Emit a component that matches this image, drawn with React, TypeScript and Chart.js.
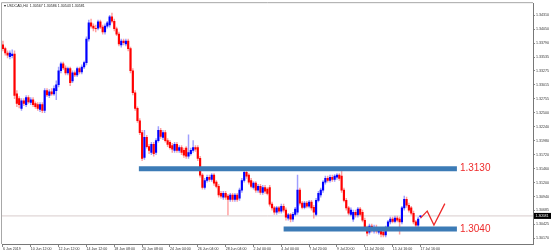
import React, { useEffect, useRef } from "react";
import { Chart, registerables } from "chart.js";

Chart.register(...registerables);

// ---- data (USDCAD, H4) ----
const opens = [
  1.3376, 1.3369, 1.3361, 1.3354, 1.3356, 1.3359, 1.3285, 1.3276, 1.3258, 1.3272,
  1.3265, 1.3278, 1.3269, 1.3274, 1.3267, 1.3265, 1.3256, 1.3265, 1.3254, 1.3291,
  1.3282, 1.3289, 1.3285, 1.3291, 1.3302, 1.3328, 1.3341, 1.3333, 1.3324, 1.3332,
  1.3309, 1.3324, 1.3320, 1.3332, 1.3326, 1.3335, 1.3343, 1.3387, 1.3417, 1.3411,
  1.3407, 1.3407, 1.3419, 1.3409, 1.3400, 1.3411, 1.3413, 1.3428, 1.3420, 1.3406,
  1.3396, 1.3376, 1.3383, 1.3378, 1.3383, 1.3369, 1.3328, 1.3287, 1.3258, 1.3235,
  1.3213, 1.3167, 1.3204, 1.3187, 1.3176, 1.3191, 1.3176, 1.3198, 1.3217, 1.3204,
  1.3213, 1.3198, 1.3195, 1.3189, 1.3180, 1.3191, 1.3180, 1.3185, 1.3180, 1.3184,
  1.3169, 1.3174, 1.3180, 1.3185, 1.3185, 1.3165, 1.3134, 1.3111, 1.3124, 1.3130,
  1.3126, 1.3134, 1.3121, 1.3113, 1.3100, 1.3093, 1.3100, 1.3095, 1.3089, 1.3097,
  1.3089, 1.3097, 1.3091, 1.3106, 1.3124, 1.3139, 1.3134, 1.3124, 1.3111, 1.3119,
  1.3106, 1.3113, 1.3102, 1.3111, 1.3108, 1.3111, 1.3080, 1.3073, 1.3065, 1.3073,
  1.3067, 1.3076, 1.3069, 1.3054, 1.3060, 1.3052, 1.3061, 1.3065, 1.3106, 1.3082,
  1.3074, 1.3082, 1.3076, 1.3084, 1.3074, 1.3061, 1.3087, 1.3097, 1.3106, 1.3121,
  1.3128, 1.3124, 1.3130, 1.3126, 1.3130, 1.3134, 1.3132, 1.3106, 1.3087, 1.3073,
  1.3061, 1.3052, 1.3065, 1.3060, 1.3071, 1.3065, 1.3050, 1.3036, 1.3028, 1.3039,
  1.3030, 1.3037, 1.3028, 1.3034, 1.3028, 1.3023, 1.3036, 1.3047, 1.3052, 1.3048,
  1.3054, 1.3052, 1.3047, 1.3073, 1.3089, 1.3078, 1.3073, 1.3063, 1.3047, 1.3041,
  1.30567,
];
const highs = [
  1.3383, 1.3372, 1.3365, 1.3365, 1.3367, 1.3365, 1.3291, 1.3280, 1.3276, 1.3276,
  1.3282, 1.3282, 1.3278, 1.3278, 1.3270, 1.3269, 1.3269, 1.3269, 1.3295, 1.3295,
  1.3293, 1.3295, 1.3300, 1.3309, 1.3335, 1.3344, 1.3344, 1.3337, 1.3335, 1.3335,
  1.3328, 1.3328, 1.3335, 1.3335, 1.3339, 1.3346, 1.3391, 1.3422, 1.3424, 1.3415,
  1.3413, 1.3422, 1.3422, 1.3413, 1.3415, 1.3420, 1.3431, 1.3435, 1.3424, 1.3409,
  1.3400, 1.3387, 1.3387, 1.3387, 1.3387, 1.3372, 1.3332, 1.3291, 1.3261, 1.3239,
  1.3217, 1.3217, 1.3208, 1.3191, 1.3195, 1.3195, 1.3202, 1.3224, 1.3221, 1.3217,
  1.3217, 1.3202, 1.3198, 1.3193, 1.3195, 1.3195, 1.3189, 1.3189, 1.3184, 1.3187,
  1.3209, 1.3184, 1.3198, 1.3189, 1.3189, 1.3169, 1.3137, 1.3128, 1.3134, 1.3134,
  1.3137, 1.3137, 1.3124, 1.3117, 1.3104, 1.3104, 1.3104, 1.3098, 1.3100, 1.3100,
  1.3100, 1.3100, 1.3110, 1.3128, 1.3148, 1.3143, 1.3137, 1.3128, 1.3122, 1.3122,
  1.3117, 1.3117, 1.3115, 1.3115, 1.3111, 1.3115, 1.3084, 1.3076, 1.3076, 1.3076,
  1.3080, 1.3080, 1.3073, 1.3063, 1.3063, 1.3065, 1.3074, 1.3134, 1.3110, 1.3085,
  1.3085, 1.3085, 1.3087, 1.3087, 1.3078, 1.3091, 1.3104, 1.3110, 1.3124, 1.3132,
  1.3132, 1.3134, 1.3134, 1.3135, 1.3137, 1.3137, 1.3143, 1.3110, 1.3091, 1.3076,
  1.3073, 1.3069, 1.3069, 1.3074, 1.3074, 1.3069, 1.3054, 1.3039, 1.3043, 1.3043,
  1.3041, 1.3041, 1.3037, 1.3037, 1.3032, 1.3039, 1.3050, 1.3056, 1.3056, 1.3058,
  1.3058, 1.3056, 1.3076, 1.3095, 1.3093, 1.3082, 1.3076, 1.3067, 1.3050, 1.3056,
  1.30586,
];
const lows = [
  1.3365, 1.3357, 1.3352, 1.3350, 1.3352, 1.3276, 1.3261, 1.3259, 1.3254, 1.3263,
  1.3261, 1.3267, 1.3265, 1.3261, 1.3258, 1.3254, 1.3252, 1.3250, 1.3250, 1.3280,
  1.3278, 1.3282, 1.3282, 1.3274, 1.3298, 1.3324, 1.3330, 1.3320, 1.3320, 1.3300,
  1.3306, 1.3317, 1.3317, 1.3322, 1.3322, 1.3332, 1.3339, 1.3383, 1.3407, 1.3402,
  1.3400, 1.3404, 1.3406, 1.3396, 1.3396, 1.3407, 1.3409, 1.3417, 1.3402, 1.3393,
  1.3374, 1.3372, 1.3376, 1.3374, 1.3365, 1.3324, 1.3283, 1.3254, 1.3232, 1.3209,
  1.3161, 1.3163, 1.3184, 1.3174, 1.3172, 1.3169, 1.3172, 1.3195, 1.3202, 1.3200,
  1.3195, 1.3187, 1.3182, 1.3176, 1.3176, 1.3176, 1.3176, 1.3172, 1.3167, 1.3165,
  1.3165, 1.3171, 1.3176, 1.3178, 1.3161, 1.3130, 1.3108, 1.3108, 1.3121, 1.3122,
  1.3122, 1.3115, 1.3110, 1.3093, 1.3091, 1.3089, 1.3089, 1.3060, 1.3085, 1.3085,
  1.3085, 1.3085, 1.3087, 1.3102, 1.3121, 1.3128, 1.3117, 1.3110, 1.3108, 1.3102,
  1.3102, 1.3098, 1.3098, 1.3100, 1.3097, 1.3076, 1.3069, 1.3061, 1.3061, 1.3063,
  1.3063, 1.3065, 1.3050, 1.3050, 1.3047, 1.3048, 1.3058, 1.3061, 1.3078, 1.3071,
  1.3071, 1.3073, 1.3073, 1.3069, 1.3054, 1.3058, 1.3084, 1.3093, 1.3102, 1.3117,
  1.3121, 1.3121, 1.3122, 1.3122, 1.3126, 1.3124, 1.3102, 1.3084, 1.3069, 1.3060,
  1.3058, 1.3048, 1.3056, 1.3056, 1.3058, 1.3047, 1.3032, 1.3021, 1.3024, 1.3028,
  1.3026, 1.3026, 1.3024, 1.3019, 1.3019, 1.3019, 1.3032, 1.3043, 1.3045, 1.3045,
  1.3047, 1.3024, 1.3043, 1.3069, 1.3074, 1.3065, 1.3060, 1.3043, 1.3037, 1.3037,
  1.30543,
];
const closes = [
  1.3369, 1.3361, 1.3357, 1.3361, 1.3359, 1.3282, 1.3267, 1.3265, 1.3272, 1.3267,
  1.3278, 1.3270, 1.3274, 1.3265, 1.3261, 1.3258, 1.3265, 1.3254, 1.3291, 1.3283,
  1.3289, 1.3285, 1.3295, 1.3302, 1.3328, 1.3341, 1.3333, 1.3324, 1.3332, 1.3306,
  1.3324, 1.3320, 1.3332, 1.3326, 1.3335, 1.3343, 1.3387, 1.3417, 1.3411, 1.3407,
  1.3406, 1.3419, 1.3409, 1.3400, 1.3411, 1.3417, 1.3428, 1.3420, 1.3406, 1.3396,
  1.3378, 1.3383, 1.3380, 1.3383, 1.3369, 1.3328, 1.3287, 1.3258, 1.3235, 1.3213,
  1.3165, 1.3204, 1.3187, 1.3180, 1.3191, 1.3174, 1.3198, 1.3217, 1.3206, 1.3213,
  1.3198, 1.3191, 1.3185, 1.3182, 1.3191, 1.3180, 1.3185, 1.3176, 1.3171, 1.3169,
  1.3176, 1.3180, 1.3185, 1.3182, 1.3165, 1.3134, 1.3111, 1.3124, 1.3130, 1.3126,
  1.3134, 1.3119, 1.3113, 1.3097, 1.3095, 1.3100, 1.3093, 1.3089, 1.3097, 1.3089,
  1.3097, 1.3089, 1.3106, 1.3124, 1.3139, 1.3132, 1.3121, 1.3113, 1.3119, 1.3106,
  1.3113, 1.3102, 1.3111, 1.3104, 1.3100, 1.3080, 1.3073, 1.3065, 1.3073, 1.3067,
  1.3076, 1.3069, 1.3056, 1.3060, 1.3052, 1.3061, 1.3071, 1.3106, 1.3082, 1.3074,
  1.3082, 1.3076, 1.3084, 1.3073, 1.3065, 1.3087, 1.3100, 1.3106, 1.3121, 1.3128,
  1.3124, 1.3130, 1.3126, 1.3132, 1.3134, 1.3128, 1.3106, 1.3087, 1.3073, 1.3063,
  1.3069, 1.3065, 1.3060, 1.3071, 1.3061, 1.3050, 1.3036, 1.3026, 1.3039, 1.3032,
  1.3037, 1.3030, 1.3034, 1.3024, 1.3023, 1.3036, 1.3047, 1.3052, 1.3048, 1.3054,
  1.3050, 1.3047, 1.3073, 1.3089, 1.3078, 1.3069, 1.3063, 1.3047, 1.3041, 1.3052,
  1.30581,
];

const xTickIndex = [0, 12, 24, 36, 48, 60, 72, 84, 96, 108, 120, 132, 144, 156, 168, 180];
const xTickLabels = [
  "6 Jun 2019", "10 Jun 12:00", "12 Jun 12:00", "14 Jun 12:00", "18 Jun 08:00",
  "20 Jun 08:00", "24 Jun 04:00", "26 Jun 04:00", "28 Jun 04:00", "2 Jul 00:00",
  "4 Jul 00:00", "7 Jul 20:00", "9 Jul 20:00", "11 Jul 20:00", "15 Jul 16:00",
  "17 Jul 16:00",
];
const yTickValues = [
  1.3017, 1.30425, 1.30685, 1.3094, 1.312, 1.3146, 1.3172, 1.3198, 1.3224,
  1.325, 1.32755, 1.33015, 1.33275, 1.33535, 1.3379, 1.3405, 1.3431,
];

const headerText = "USDCAD,H4  1.30567 1.30586 1.30543 1.30581";
const lastPrice = 1.30581;

// support / resistance zones (hand drawn)
const upperBandValue = 1.3146;
const lowerBandValue = 1.3034;
const upperBandFrom = 58.6;
const lowerBandFrom = 121;
const bandTo = 195.7;
const upperBandLabel = "1.3130";
const lowerBandLabel = "1.3040";

// projected zig-zag
const zigX = [180, 182.9, 185.8, 190.5];
const zigY = [1.3054, 1.3067, 1.3041, 1.3081];

const X_MIN = -0.4;
const X_MAX = 228.5;
const Y_MIN = 1.30059;
const Y_MAX = 1.34536;

const FONT = '"Liberation Sans", Arial, sans-serif';
const BULL = "#0000ff";
const BEAR = "#ff0000";
const BULL_WICK = "rgba(80,80,255,0.55)";
const BEAR_WICK = "rgba(255,80,80,0.55)";
const BAND = "#3c7bb6";
const ANNOT = "#ee2b2b";

const decorPlugin = {
  id: "decor",
  afterDraw(chart: any) {
    const ctx = chart.ctx;
    const { left, top, right, bottom } = chart.chartArea;
    const xs = chart.scales.x;
    const ys = chart.scales.y;
    ctx.save();
    // frame left & top
    ctx.strokeStyle = "#a8a8a8";
    ctx.lineWidth = 1;
    ctx.beginPath();
    ctx.moveTo(left - 0.5, bottom);
    ctx.lineTo(left - 0.5, top - 0.5);
    ctx.lineTo(right, top - 0.5);
    ctx.stroke();
    // header
    ctx.fillStyle = "#222";
    ctx.font = `3.6px ${FONT}`;
    ctx.textAlign = "left";
    ctx.textBaseline = "middle";
    ctx.fillText("\u25BE " + headerText, left + 2, top + 3);
    // zone labels
    ctx.fillStyle = ANNOT;
    ctx.font = `10px ${FONT}`;
    const lx = xs.getPixelForValue(bandTo) + 3;
    ctx.fillText(upperBandLabel, lx, ys.getPixelForValue(upperBandValue));
    ctx.fillText(lowerBandLabel, lx, ys.getPixelForValue(lowerBandValue));
    // current price box
    const py = ys.getPixelForValue(lastPrice);
    ctx.fillStyle = "#000";
    ctx.fillRect(right + 1, py - 3, 17, 6);
    ctx.fillStyle = "#fff";
    ctx.font = `3.6px ${FONT}`;
    ctx.fillText(lastPrice.toFixed(5), right + 2.5, py);
    ctx.restore();
  },
};

export default function App() {
  const ref = useRef<HTMLCanvasElement | null>(null);

  useEffect(() => {
    document.body.style.margin = "0";
    document.body.style.background = "#fff";
    if (!ref.current) return;

    const bodies = opens.map((o, i) => ({ x: i, y: [o, closes[i]] }));
    const wicks = lows.map((l, i) => ({ x: i, y: [l, highs[i]] }));
    const bodyColors = opens.map((o, i) => (closes[i] >= o ? BULL : BEAR));
    const wickColors = opens.map((o, i) => (closes[i] >= o ? BULL_WICK : BEAR_WICK));

    const chart = new Chart(ref.current, {
      type: "bar",
      data: {
        datasets: [
          {
            type: "line",
            data: zigX.map((x, i) => ({ x, y: zigY[i] })),
            borderColor: ANNOT,
            borderWidth: 1.3,
            pointRadius: 0,
            tension: 0,
            order: 0,
          } as any,
          {
            type: "line",
            data: [
              { x: upperBandFrom, y: upperBandValue },
              { x: bandTo, y: upperBandValue },
            ],
            borderColor: BAND,
            borderWidth: 5,
            borderCapStyle: "butt",
            pointRadius: 0,
            order: 1,
          } as any,
          {
            type: "line",
            data: [
              { x: lowerBandFrom, y: lowerBandValue },
              { x: bandTo, y: lowerBandValue },
            ],
            borderColor: BAND,
            borderWidth: 5,
            borderCapStyle: "butt",
            pointRadius: 0,
            order: 1,
          } as any,
          {
            type: "bar",
            data: bodies as any,
            backgroundColor: bodyColors,
            barThickness: 1.5,
            grouped: false,
            borderWidth: 0,
            order: 2,
          } as any,
          {
            type: "bar",
            data: wicks as any,
            backgroundColor: wickColors,
            barThickness: 0.8,
            grouped: false,
            borderWidth: 0,
            order: 3,
          } as any,
          {
            type: "line",
            data: [
              { x: X_MIN, y: lastPrice },
              { x: X_MAX, y: lastPrice },
            ],
            borderColor: "#d8cccc",
            borderWidth: 1,
            pointRadius: 0,
            order: 4,
          } as any,
        ],
      },
      options: {
        animation: false,
        responsive: false,
        devicePixelRatio: 1,
        events: [],
        layout: { padding: { left: 2, top: 2, right: 0, bottom: 0 } },
        plugins: {
          legend: { display: false },
          tooltip: { enabled: false },
          title: { display: false },
        },
        scales: {
          x: {
            type: "linear",
            min: X_MIN,
            max: X_MAX,
            offset: false,
            afterBuildTicks: (s: any) => {
              s.ticks = xTickIndex.map((v) => ({ value: v }));
            },
            afterFit: (s: any) => {
              s.height = 8;
            },
            ticks: {
              autoSkip: false,
              maxRotation: 0,
              minRotation: 0,
              align: "start",
              padding: 0,
              color: "#333",
              font: { size: 3.6, family: FONT },
              callback: (v: any) => xTickLabels[xTickIndex.indexOf(Number(v))] ?? "",
            },
            grid: {
              display: true,
              drawOnChartArea: false,
              drawTicks: true,
              tickLength: 3,
              color: "#888",
              offset: false,
            },
            border: { display: true, color: "#777", width: 1 },
          },
          y: {
            type: "linear",
            position: "right",
            min: Y_MIN,
            max: Y_MAX,
            afterBuildTicks: (s: any) => {
              s.ticks = yTickValues.map((v) => ({ value: v }));
            },
            afterFit: (s: any) => {
              s.width = 19;
            },
            ticks: {
              autoSkip: false,
              padding: 1,
              color: "#333",
              font: { size: 3.6, family: FONT },
              callback: (v: any) => Number(v).toFixed(5),
            },
            grid: {
              display: true,
              drawOnChartArea: false,
              drawTicks: true,
              tickLength: 2,
              color: "#888",
            },
            border: { display: true, color: "#777", width: 1 },
          },
        },
      } as any,
      plugins: [decorPlugin],
    });

    return () => chart.destroy();
  }, []);

  return (
    <div style={{ width: 552, height: 252, background: "#fff" }}>
      <canvas ref={ref} width={552} height={252} style={{ display: "block" }} />
    </div>
  );
}
